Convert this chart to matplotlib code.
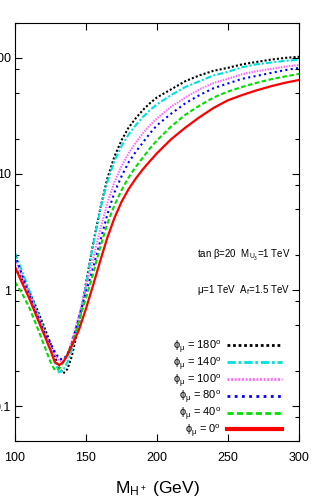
import matplotlib
matplotlib.use("Agg")
import matplotlib.pyplot as plt
from matplotlib.ticker import FixedLocator, NullFormatter, LogLocator

plt.rcParams['font.family'] = ['Liberation Sans', 'DejaVu Sans']
plt.rcParams['mathtext.fontset'] = 'custom'
plt.rcParams['mathtext.rm'] = 'Liberation Sans'
plt.rcParams['mathtext.it'] = 'Liberation Sans'

# charged Higgs mass (GeV)
m_h = [100, 105, 110, 115, 120, 125, 128, 131, 134, 137, 140, 145, 150, 155, 160,
       165, 170, 175, 180, 185, 190, 195, 200, 210, 220, 230, 240, 250, 260, 270,
       280, 290, 300]

# curves for each phase of mu
phi_180 = [1.55, 1.23, 0.977, 0.708, 0.501, 0.347, 0.269, 0.214, 0.191, 0.209, 0.269,
           0.501, 1.15, 2.51, 5.01, 9.12, 14.1, 19.5, 25.1, 30.2, 35.5, 40.7, 45.7,
           53.7, 63.1, 70.8, 77.6, 82.2, 88.1, 92.3, 96.6, 100.0, 102.3]
phi_140 = [2.09, 1.45, 1.0, 0.676, 0.468, 0.316, 0.24, 0.195, 0.204, 0.24, 0.302,
           0.525, 1.10, 2.45, 4.90, 8.51, 12.9, 17.4, 21.9, 26.3, 30.9, 35.5, 39.8,
           47.9, 56.2, 63.1, 70.8, 75.9, 83.2, 88.1, 91.2, 94.4, 96.2]
phi_100 = [1.82, 1.32, 0.933, 0.646, 0.447, 0.339, 0.282, 0.245, 0.245, 0.282, 0.363,
           0.603, 1.07, 1.86, 3.31, 5.62, 8.51, 11.7, 15.1, 18.6, 22.4, 26.3, 30.2,
           38.0, 45.7, 53.7, 61.0, 66.1, 72.4, 76.7, 80.4, 84.1, 87.1]
phi_80 = [2.0, 1.35, 0.912, 0.631, 0.447, 0.347, 0.295, 0.257, 0.251, 0.282, 0.347,
          0.575, 0.955, 1.55, 2.63, 4.47, 6.92, 9.55, 12.6, 15.5, 18.6, 22.4, 26.3,
          33.1, 40.7, 47.9, 55.0, 60.3, 66.1, 70.0, 74.1, 78.5, 82.0]
phi_40 = [1.17, 0.933, 0.708, 0.501, 0.347, 0.24, 0.204, 0.209, 0.24, 0.282, 0.339,
          0.537, 0.851, 1.38, 2.34, 3.72, 5.37, 7.24, 9.33, 11.5, 13.8, 16.6, 19.5,
          25.7, 32.4, 38.9, 45.7, 51.3, 56.2, 61.0, 65.3, 69.2, 72.8]
phi_0 = [1.58, 1.15, 0.85, 0.60, 0.427, 0.302, 0.24, 0.225, 0.24, 0.275, 0.331,
         0.452, 0.692, 1.10, 1.78, 2.82, 4.17, 5.75, 7.41, 9.12, 10.96, 12.9, 15.1,
         19.95, 25.1, 30.9, 37.2, 43.2, 47.9, 52.5, 56.9, 61.0, 64.6]

labels = [r"$\phi_\mu$ = 180$^o$", r"$\phi_\mu$ = 140$^o$", r"$\phi_\mu$ = 100$^o$",
          r"$\phi_\mu$ = 80$^o$", r"$\phi_\mu$ = 40$^o$", r"$\phi_\mu$ = 0$^o$"]

fig = plt.figure(figsize=(3.16, 5.0), dpi=100)
ax = fig.add_axes([15/316, 1-441/500, 284/316, 418/500])

lw = 1.5
ax.plot(m_h, phi_180, color="black", lw=lw, ls=(0, (1, 1)), label=labels[0])
ax.plot(m_h, phi_140, color="#00e0e0", lw=lw, ls=(0, (3, 1, 1, 1)), label=labels[1])
ax.plot(m_h, phi_100, color="#ff66ff", lw=lw, ls=(0, (0.7, 0.6)), label=labels[2])
ax.plot(m_h, phi_80, color="blue", lw=lw, ls=(0, (1, 1.6)), label=labels[3])
ax.plot(m_h, phi_40, color="#00dd00", lw=lw, ls=(0, (2.2, 1.2)), label=labels[4])
ax.plot(m_h, phi_0, color="red", lw=1.6, ls="-", label=labels[5])

ax.set_yscale("log")
ax.set_xlim(100, 300)
ax.set_ylim(0.05, 200)
ax.set_xticks([100, 150, 200, 250, 300])
ax.set_xticklabels(["100", "150", "200", "250", "300"])
ax.yaxis.set_major_locator(FixedLocator([0.1, 1, 10, 100]))
ax.set_yticklabels(["0.1", "1", "10", "100"])
ax.yaxis.set_minor_locator(LogLocator(base=10, subs=(2, 5, 8)))
ax.yaxis.set_minor_formatter(NullFormatter())
ax.tick_params(which="both", direction="in", top=True, right=True, labelsize=9)
ax.tick_params(which="major", length=5, width=0.8)
ax.tick_params(which="minor", length=3, width=0.8)
ax.tick_params(axis="y", pad=3)
ax.tick_params(axis="x", pad=8)

ax.set_xlabel(r"M$_{H^+}$ (GeV)", fontsize=12.5, labelpad=11)

ax.text(0.64, 0.445, r"tan $\beta$=20  M$_{U_3}$=1 TeV", transform=ax.transAxes,
        fontsize=7, va="center")
ax.text(0.64, 0.361, r"$\mu$=1 TeV  A$_f$=1.5 TeV", transform=ax.transAxes,
        fontsize=7, va="center")

leg = ax.legend(loc="lower right", frameon=False, markerfirst=False, fontsize=8,
                handlelength=4.9, labelspacing=0.0, handletextpad=0.55,
                borderaxespad=0.0, bbox_to_anchor=(0.955, -0.006))
for line in leg.get_lines():
    line.set_linewidth(2.0)
leg.get_lines()[-1].set_linewidth(3)

fig.savefig("out.png", dpi=100)
